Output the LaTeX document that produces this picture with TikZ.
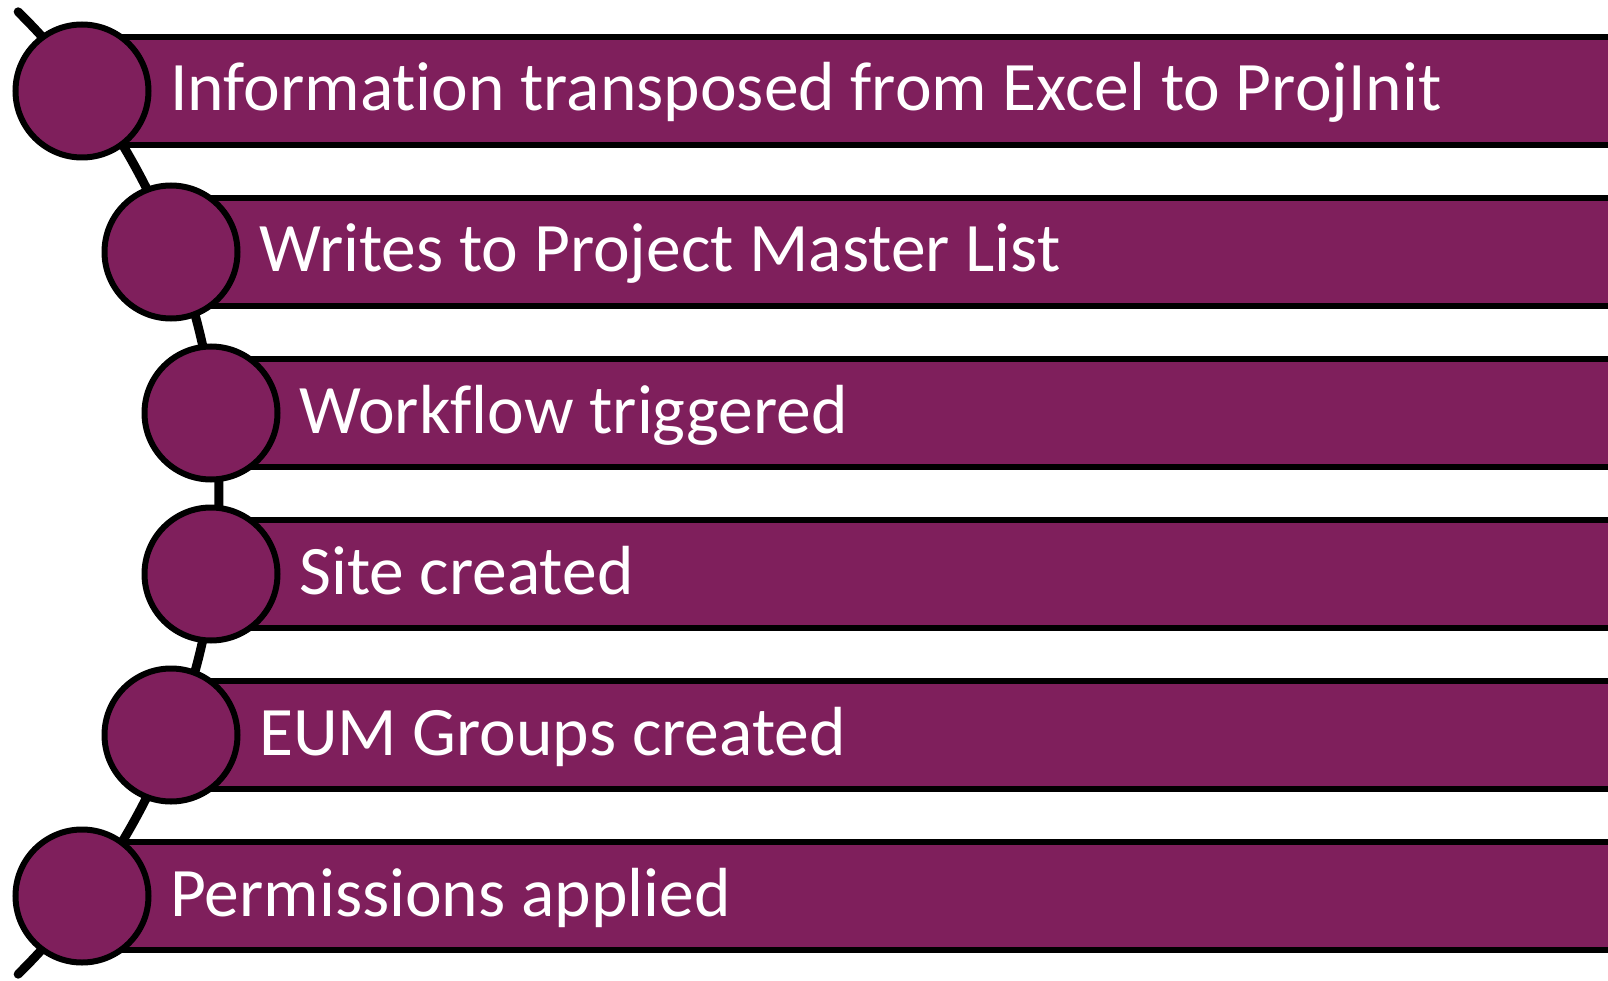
\documentclass[tikz,border=0pt]{standalone}
\usepackage{fontspec}
\setmainfont{Carlito}[Ligatures=NoCommon]
\definecolor{plum}{RGB}{127,31,92}
\begin{document}
\begin{tikzpicture}[x=1pt,y=-1pt,
  bar/.style={fill=plum,draw=black,line width=5.5pt},
  dot/.style={circle,fill=plum,draw=black,line width=6pt,minimum size=133pt,inner sep=0pt},
  lbl/.style={anchor=base west,text=white,font=\fontsize{69.5}{80}\selectfont,inner sep=0pt},
  curve/.style={draw=black,line width=9pt,line cap=round}]
\useasboundingbox (0,0) rectangle (1608,981);
\clip (0,0) rectangle (1608,981);
\foreach \i/\cx/\t in {0/82/Information transposed from Excel to ProjInit,
                      1/171/Writes to Project Master List,
                      2/211/Workflow triggered,
                      3/211/Site created,
                      4/171/EUM Groups created,
                      5/82/Permissions applied}{
  \pgfmathsetmacro{\yc}{91+161*\i}
  \draw[bar] (\cx,\yc-54) rectangle (1640,\yc+54);
  \node[lbl] (t\i) at (\cx+88,\yc+20) {\t};
}
\coordinate (arcstart) at ({-458+677*cos(-45.3)},{493+677*sin(-45.3)});
\draw[curve] (arcstart) arc[start angle=-45.3,end angle=45.3,radius=677];
\foreach \i/\cx in {0/82,1/171,2/211,3/211,4/171,5/82}{
  \pgfmathsetmacro{\yc}{91+161*\i}
  \node[dot] (c\i) at (\cx,\yc) {};
}
\end{tikzpicture}
\end{document}
